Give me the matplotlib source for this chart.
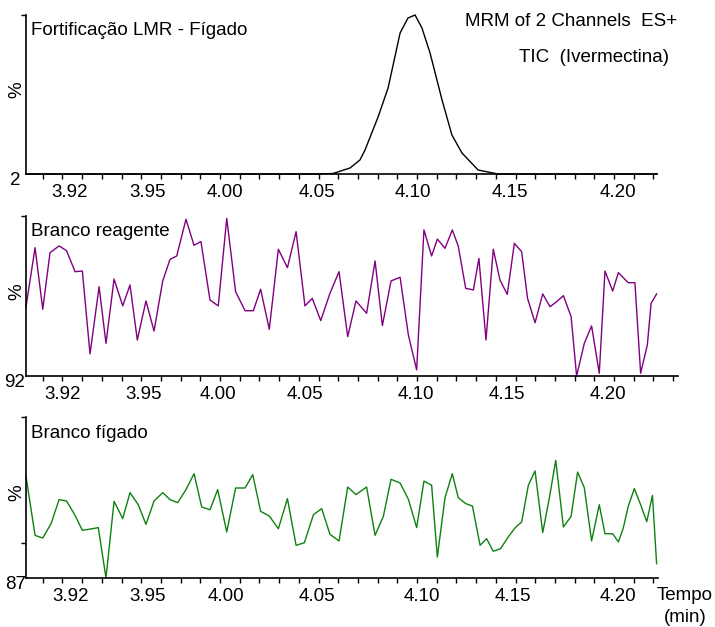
import matplotlib
matplotlib.use("Agg")
import matplotlib.pyplot as plt
from matplotlib.ticker import FixedLocator, MultipleLocator

plt.rcParams['font.family'] = ['Liberation Sans', 'DejaVu Sans']
FS = 13.5

# Fortificação LMR - Fígado (TIC ivermectina)
fort_t = [3.9015, 4.0492, 4.0573, 4.0660, 4.0710, 4.0736, 4.0802, 4.0853, 4.0914,
          4.0954, 4.0990, 4.1025, 4.1066, 4.1127, 4.1177, 4.1228, 4.1310, 4.1411, 4.2216]
fort_pct = [0.0, 0.0, 0.3, 3.8, 8.8, 15.1, 35.8, 54.1, 88.7,
            98.1, 100.0, 91.8, 76.1, 46.5, 24.5, 13.2, 2.5, 0.0, 0.0]

# Branco reagente
reag_t = [3.9015, 3.9061, 3.9100, 3.9137, 3.9183, 3.9221, 3.9264, 3.9301, 3.9340, 3.9386,
          3.9421, 3.9462, 3.9506, 3.9543, 3.9580, 3.9624, 3.9665, 3.9709, 3.9746, 3.9780,
          3.9827, 3.9868, 3.9903, 3.9949, 3.9991, 4.0034, 4.0079, 4.0127, 4.0169, 4.0206,
          4.0250, 4.0296, 4.0342, 4.0386, 4.0431, 4.0468, 4.0511, 4.0558, 4.0604, 4.0648,
          4.0690, 4.0744, 4.0787, 4.0824, 4.0868, 4.0914, 4.0956, 4.0998, 4.1035, 4.1074,
          4.1103, 4.1142, 4.1179, 4.1209, 4.1247, 4.1286, 4.1314, 4.1350, 4.1387, 4.1421,
          4.1458, 4.1494, 4.1531, 4.1561, 4.1599, 4.1638, 4.1675, 4.1709, 4.1743, 4.1782,
          4.1810, 4.1849, 4.1886, 4.1925, 4.1954, 4.1993, 4.2022, 4.2072, 4.2106, 4.2135,
          4.2169, 4.2188, 4.2216]
reag_pct = [43.3, 80.2, 41.7, 77.1, 81.3, 78.3, 65.2, 65.6, 13.8, 55.8,
            20.4, 60.6, 43.8, 56.9, 22.5, 46.9, 28.1, 59.4, 72.9, 75.0,
            97.9, 81.7, 84.0, 47.5, 43.8, 98.5, 52.7, 40.8, 40.8, 54.2,
            29.2, 79.2, 67.7, 90.2, 43.8, 48.5, 34.6, 51.7, 65.2, 24.6,
            46.9, 39.2, 71.9, 31.5, 59.4, 61.7, 25.6, 3.8, 91.3, 75.0,
            85.6, 79.8, 91.3, 81.3, 54.8, 53.8, 73.5, 22.5, 79.2, 60.0,
            51.0, 82.9, 77.7, 48.5, 33.3, 51.3, 43.3, 46.5, 50.2, 37.1,
            0.0, 20.4, 31.3, 1.7, 65.6, 53.1, 64.6, 58.3, 58.3, 1.7,
            19.4, 45.4, 51.3]

# Branco fígado
figado_t = [3.9015, 3.9061, 3.9100, 3.9142, 3.9183, 3.9221, 3.9264, 3.9301, 3.9342, 3.9382,
            3.9421, 3.9462, 3.9506, 3.9543, 3.9585, 3.9624, 3.9665, 3.9709, 3.9746, 3.9785,
            3.9827, 3.9868, 3.9907, 3.9949, 3.9988, 4.0034, 4.0079, 4.0127, 4.0166, 4.0206,
            4.0250, 4.0296, 4.0342, 4.0386, 4.0428, 4.0474, 4.0516, 4.0558, 4.0604, 4.0648,
            4.0690, 4.0744, 4.0787, 4.0829, 4.0868, 4.0914, 4.0956, 4.0998, 4.1035, 4.1074,
            4.1103, 4.1142, 4.1179, 4.1209, 4.1247, 4.1281, 4.1320, 4.1353, 4.1387, 4.1424,
            4.1463, 4.1497, 4.1531, 4.1565, 4.1599, 4.1638, 4.1671, 4.1704, 4.1743, 4.1782,
            4.1815, 4.1849, 4.1886, 4.1925, 4.1954, 4.1993, 4.2022, 4.2047, 4.2072, 4.2103,
            4.2135, 4.2166, 4.2195, 4.2216]
figado_pct = [63.1, 26.5, 24.8, 33.7, 48.7, 47.8, 38.9, 29.6, 30.4, 31.3,
              0.0, 47.6, 36.9, 53.0, 45.5, 33.3, 47.8, 53.0, 48.7, 46.8,
              54.9, 64.8, 44.1, 42.4, 54.9, 28.6, 55.9, 55.9, 64.2, 41.4,
              38.5, 30.6, 49.3, 20.3, 21.9, 39.3, 43.1, 27.1, 23.0, 56.5,
              51.8, 56.5, 26.5, 38.3, 61.3, 59.0, 48.9, 31.3, 60.2, 57.6,
              13.0, 49.9, 64.8, 49.9, 46.2, 44.7, 20.3, 24.4, 16.6, 18.2,
              25.5, 31.1, 34.8, 57.6, 66.5, 28.2, 49.3, 73.1, 31.7, 38.3,
              65.8, 56.1, 23.0, 45.5, 27.5, 27.5, 22.4, 31.1, 44.5, 55.5,
              45.5, 35.0, 51.3, 8.9]

tick_text = ['3.92', '3.95', '4.00', '4.05', '4.10', '4.15', '4.20']
fort_ticks = [3.9238, 3.9634, 4.0025, 4.0492, 4.0979, 4.1472, 4.2020]
reag_ticks = [3.9203, 3.9614, 3.9990, 4.0431, 4.0995, 4.1457, 4.1969]
figado_ticks = [3.9243, 3.9634, 4.0030, 4.0492, 4.1025, 4.1487, 4.2020]

W, H = 715, 627
fig = plt.figure(figsize=(W / 100, H / 100), dpi=100)


def panel(left, top, right, bottom, t, pct, color, ticks, offset, name, yticks):
    ax = fig.add_axes([left / W, 1 - bottom / H, (right - left) / W, (bottom - top) / H])
    ax.plot(t, pct, color=color, lw=1.0, clip_on=False)
    t0 = 3.9015
    ax.set_xlim(t0, t0 + (right - left) / 1970)
    ax.set_ylim(0, 100)
    for s in ['top', 'right']:
        ax.spines[s].set_visible(False)
    for s in ['left', 'bottom']:
        ax.spines[s].set_linewidth(1.2)
    ax.xaxis.set_major_locator(FixedLocator(ticks))
    ax.set_xticklabels(tick_text)
    ax.xaxis.set_minor_locator(MultipleLocator(0.01))
    ax.tick_params(axis='x', which='major', length=0, pad=7, labelsize=FS)
    ax.tick_params(axis='x', which='minor', length=3.5, width=1.0, direction='out')
    ax.set_yticks(yticks)
    ax.set_yticklabels([])
    ax.tick_params(axis='y', length=3.5, width=1.0)
    ax.text(-0.014, 0.53, '%', transform=ax.transAxes, rotation=90,
            ha='center', va='center', fontsize=FS)
    ax.text(-0.017, -0.04, offset, transform=ax.transAxes, ha='center', va='center', fontsize=FS)
    ax.text(0.008, 0.90, name, transform=ax.transAxes, ha='left', va='center', fontsize=FS)
    return ax


ax1 = panel(26, 15, 657, 174, fort_t, fort_pct, 'black', fort_ticks, '2',
            'Fortificação LMR - Fígado', [100])
ax1.text(677 / W, 1 - 22 / H, 'MRM of 2 Channels  ES+', transform=fig.transFigure,
         ha='right', va='center', fontsize=FS)
ax1.text(669 / W, 1 - 58 / H, 'TIC  (Ivermectina)', transform=fig.transFigure,
         ha='right', va='center', fontsize=FS)

panel(26, 216, 678, 376, reag_t, reag_pct, '#800080', reag_ticks, '92',
      'Branco reagente', [100])

panel(26, 417, 658, 578, figado_t, figado_pct, '#108010', figado_ticks, '87',
      'Branco fígado', [22, 100])

fig.text(657 / W, 1 - 595 / H, 'Tempo', ha='left', va='center', fontsize=FS)
fig.text(685 / W, 1 - 618 / H, '(min)', ha='center', va='center', fontsize=FS)

fig.savefig('out.png', dpi=100)
